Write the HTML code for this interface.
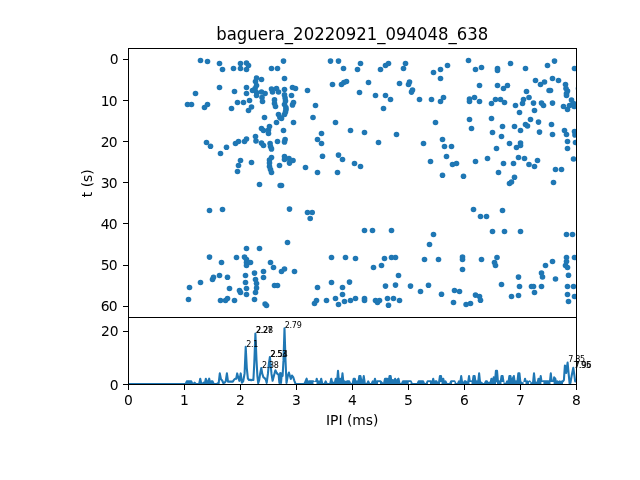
<!DOCTYPE html>
<html><head><meta charset="utf-8"><title>baguera_20220921_094048_638</title>
<style>html,body{margin:0;padding:0;background:#fff;overflow:hidden}svg{display:block}text{font-family:"DejaVu Sans","Liberation Sans",sans-serif;fill:#000}</style></head><body>
<svg width="640" height="480" viewBox="0 0 640 480">
<rect width="640" height="480" fill="#fff"/>
<defs><clipPath id="c1"><rect x="128" y="48" width="448" height="268.8"/></clipPath><clipPath id="c2"><rect x="128" y="316.8" width="448" height="67.19999999999999"/></clipPath></defs>
<g clip-path="url(#c1)" fill="#1f77b4">
<circle cx="187.50" cy="104.50" r="2.8"/>
<circle cx="188.50" cy="299.50" r="2.8"/>
<circle cx="189.50" cy="287.50" r="2.8"/>
<circle cx="191.50" cy="104.50" r="2.8"/>
<circle cx="195.50" cy="93.50" r="2.8"/>
<circle cx="200.50" cy="60.50" r="2.8"/>
<circle cx="200.50" cy="282.50" r="2.8"/>
<circle cx="204.50" cy="107.50" r="2.8"/>
<circle cx="206.50" cy="142.50" r="2.8"/>
<circle cx="207.50" cy="61.50" r="2.8"/>
<circle cx="207.50" cy="104.50" r="2.8"/>
<circle cx="209.50" cy="210.50" r="2.8"/>
<circle cx="209.50" cy="257.10" r="2.8"/>
<circle cx="210.50" cy="146.20" r="2.8"/>
<circle cx="212.50" cy="279.50" r="2.8"/>
<circle cx="213.50" cy="277.20" r="2.8"/>
<circle cx="219.50" cy="63.50" r="2.8"/>
<circle cx="219.50" cy="87.50" r="2.8"/>
<circle cx="219.50" cy="275.50" r="2.8"/>
<circle cx="220.50" cy="153.50" r="2.8"/>
<circle cx="220.50" cy="300.50" r="2.8"/>
<circle cx="221.50" cy="262.50" r="2.8"/>
<circle cx="222.50" cy="69.50" r="2.8"/>
<circle cx="222.50" cy="209.50" r="2.8"/>
<circle cx="225.50" cy="300.50" r="2.8"/>
<circle cx="226.50" cy="147.20" r="2.8"/>
<circle cx="227.50" cy="277.20" r="2.8"/>
<circle cx="227.50" cy="298.50" r="2.8"/>
<circle cx="229.50" cy="288.50" r="2.8"/>
<circle cx="231.50" cy="108.50" r="2.8"/>
<circle cx="233.50" cy="68.50" r="2.8"/>
<circle cx="234.50" cy="91.50" r="2.8"/>
<circle cx="234.50" cy="300.50" r="2.8"/>
<circle cx="235.50" cy="143.50" r="2.8"/>
<circle cx="236.50" cy="257.50" r="2.8"/>
<circle cx="237.50" cy="102.50" r="2.8"/>
<circle cx="237.50" cy="171.50" r="2.8"/>
<circle cx="238.50" cy="141.50" r="2.8"/>
<circle cx="238.50" cy="165.50" r="2.8"/>
<circle cx="239.50" cy="290.50" r="2.8"/>
<circle cx="240.50" cy="63.50" r="2.8"/>
<circle cx="240.50" cy="68.50" r="2.8"/>
<circle cx="240.50" cy="160.50" r="2.8"/>
<circle cx="240.50" cy="292.50" r="2.8"/>
<circle cx="243.50" cy="102.50" r="2.8"/>
<circle cx="244.50" cy="141.50" r="2.8"/>
<circle cx="244.50" cy="257.10" r="2.8"/>
<circle cx="245.50" cy="275.50" r="2.8"/>
<circle cx="245.50" cy="282.50" r="2.8"/>
<circle cx="246.50" cy="63.00" r="2.8"/>
<circle cx="246.50" cy="69.50" r="2.8"/>
<circle cx="246.50" cy="87.50" r="2.8"/>
<circle cx="246.50" cy="93.50" r="2.8"/>
<circle cx="246.50" cy="139.00" r="2.8"/>
<circle cx="246.50" cy="248.50" r="2.8"/>
<circle cx="246.50" cy="259.50" r="2.8"/>
<circle cx="246.50" cy="262.50" r="2.8"/>
<circle cx="246.50" cy="265.50" r="2.8"/>
<circle cx="246.50" cy="288.50" r="2.8"/>
<circle cx="246.50" cy="294.50" r="2.8"/>
<circle cx="248.50" cy="65.50" r="2.8"/>
<circle cx="248.50" cy="110.50" r="2.8"/>
<circle cx="249.50" cy="100.50" r="2.8"/>
<circle cx="250.50" cy="262.50" r="2.8"/>
<circle cx="251.50" cy="107.00" r="2.8"/>
<circle cx="251.50" cy="162.50" r="2.8"/>
<circle cx="252.50" cy="90.50" r="2.8"/>
<circle cx="254.50" cy="273.10" r="2.8"/>
<circle cx="254.50" cy="299.50" r="2.8"/>
<circle cx="255.10" cy="88.50" r="2.8"/>
<circle cx="255.50" cy="81.50" r="2.8"/>
<circle cx="255.50" cy="136.50" r="2.8"/>
<circle cx="255.50" cy="279.50" r="2.8"/>
<circle cx="255.50" cy="292.50" r="2.8"/>
<circle cx="256.00" cy="141.00" r="2.8"/>
<circle cx="256.50" cy="78.00" r="2.8"/>
<circle cx="256.50" cy="85.50" r="2.8"/>
<circle cx="256.50" cy="92.50" r="2.8"/>
<circle cx="256.50" cy="95.50" r="2.8"/>
<circle cx="256.50" cy="283.50" r="2.8"/>
<circle cx="256.50" cy="288.10" r="2.8"/>
<circle cx="259.50" cy="184.50" r="2.8"/>
<circle cx="259.50" cy="248.50" r="2.8"/>
<circle cx="261.50" cy="79.50" r="2.8"/>
<circle cx="261.50" cy="92.00" r="2.8"/>
<circle cx="261.50" cy="128.50" r="2.8"/>
<circle cx="261.50" cy="143.10" r="2.8"/>
<circle cx="262.00" cy="97.50" r="2.8"/>
<circle cx="262.50" cy="101.50" r="2.8"/>
<circle cx="263.50" cy="130.50" r="2.8"/>
<circle cx="263.50" cy="145.50" r="2.8"/>
<circle cx="263.50" cy="271.50" r="2.8"/>
<circle cx="263.50" cy="277.50" r="2.8"/>
<circle cx="264.50" cy="117.50" r="2.8"/>
<circle cx="265.10" cy="93.50" r="2.8"/>
<circle cx="265.10" cy="304.00" r="2.8"/>
<circle cx="266.50" cy="305.50" r="2.8"/>
<circle cx="268.50" cy="130.00" r="2.8"/>
<circle cx="268.50" cy="133.50" r="2.8"/>
<circle cx="269.50" cy="126.50" r="2.8"/>
<circle cx="269.50" cy="160.00" r="2.8"/>
<circle cx="269.50" cy="163.00" r="2.8"/>
<circle cx="269.50" cy="166.50" r="2.8"/>
<circle cx="270.10" cy="143.50" r="2.8"/>
<circle cx="270.50" cy="146.50" r="2.8"/>
<circle cx="270.50" cy="169.50" r="2.8"/>
<circle cx="270.50" cy="262.50" r="2.8"/>
<circle cx="271.50" cy="68.50" r="2.8"/>
<circle cx="271.50" cy="89.00" r="2.8"/>
<circle cx="271.50" cy="148.90" r="2.8"/>
<circle cx="271.50" cy="157.50" r="2.8"/>
<circle cx="271.50" cy="172.50" r="2.8"/>
<circle cx="272.50" cy="92.00" r="2.8"/>
<circle cx="273.50" cy="267.50" r="2.8"/>
<circle cx="274.50" cy="99.90" r="2.8"/>
<circle cx="274.50" cy="103.50" r="2.8"/>
<circle cx="274.50" cy="285.50" r="2.8"/>
<circle cx="275.50" cy="106.50" r="2.8"/>
<circle cx="276.50" cy="88.50" r="2.8"/>
<circle cx="276.50" cy="122.50" r="2.8"/>
<circle cx="277.50" cy="68.50" r="2.8"/>
<circle cx="277.50" cy="141.50" r="2.8"/>
<circle cx="277.50" cy="285.50" r="2.8"/>
<circle cx="278.50" cy="92.00" r="2.8"/>
<circle cx="278.50" cy="114.50" r="2.8"/>
<circle cx="279.50" cy="165.50" r="2.8"/>
<circle cx="279.90" cy="117.50" r="2.8"/>
<circle cx="280.20" cy="185.50" r="2.8"/>
<circle cx="281.50" cy="118.50" r="2.8"/>
<circle cx="281.50" cy="185.50" r="2.8"/>
<circle cx="281.50" cy="271.50" r="2.8"/>
<circle cx="283.50" cy="61.10" r="2.8"/>
<circle cx="283.50" cy="130.50" r="2.8"/>
<circle cx="284.50" cy="78.50" r="2.8"/>
<circle cx="284.50" cy="89.50" r="2.8"/>
<circle cx="284.50" cy="94.90" r="2.8"/>
<circle cx="284.50" cy="104.50" r="2.8"/>
<circle cx="284.50" cy="114.50" r="2.8"/>
<circle cx="284.50" cy="141.90" r="2.8"/>
<circle cx="284.50" cy="156.50" r="2.8"/>
<circle cx="284.50" cy="159.50" r="2.8"/>
<circle cx="284.50" cy="269.00" r="2.8"/>
<circle cx="285.10" cy="98.00" r="2.8"/>
<circle cx="285.10" cy="139.50" r="2.8"/>
<circle cx="285.50" cy="101.10" r="2.8"/>
<circle cx="285.50" cy="111.90" r="2.8"/>
<circle cx="285.90" cy="107.50" r="2.8"/>
<circle cx="286.00" cy="109.50" r="2.8"/>
<circle cx="287.50" cy="242.50" r="2.8"/>
<circle cx="289.00" cy="158.50" r="2.8"/>
<circle cx="289.50" cy="163.10" r="2.8"/>
<circle cx="289.50" cy="209.10" r="2.8"/>
<circle cx="291.50" cy="95.50" r="2.8"/>
<circle cx="292.50" cy="87.50" r="2.8"/>
<circle cx="292.50" cy="104.90" r="2.8"/>
<circle cx="293.00" cy="160.50" r="2.8"/>
<circle cx="293.50" cy="102.50" r="2.8"/>
<circle cx="293.50" cy="122.50" r="2.8"/>
<circle cx="294.50" cy="271.50" r="2.8"/>
<circle cx="295.50" cy="88.50" r="2.8"/>
<circle cx="305.50" cy="167.50" r="2.8"/>
<circle cx="307.50" cy="90.50" r="2.8"/>
<circle cx="307.50" cy="212.50" r="2.8"/>
<circle cx="310.20" cy="218.50" r="2.8"/>
<circle cx="312.20" cy="212.50" r="2.8"/>
<circle cx="313.00" cy="117.50" r="2.8"/>
<circle cx="314.50" cy="303.50" r="2.8"/>
<circle cx="315.50" cy="105.50" r="2.8"/>
<circle cx="316.50" cy="300.50" r="2.8"/>
<circle cx="317.50" cy="139.50" r="2.8"/>
<circle cx="317.50" cy="172.50" r="2.8"/>
<circle cx="317.50" cy="287.50" r="2.8"/>
<circle cx="321.50" cy="133.50" r="2.8"/>
<circle cx="321.50" cy="143.50" r="2.8"/>
<circle cx="322.50" cy="156.20" r="2.8"/>
<circle cx="326.50" cy="300.50" r="2.8"/>
<circle cx="330.50" cy="61.10" r="2.8"/>
<circle cx="331.50" cy="257.50" r="2.8"/>
<circle cx="331.50" cy="282.50" r="2.8"/>
<circle cx="332.50" cy="84.50" r="2.8"/>
<circle cx="335.50" cy="122.50" r="2.8"/>
<circle cx="335.50" cy="298.50" r="2.8"/>
<circle cx="337.50" cy="172.50" r="2.8"/>
<circle cx="338.50" cy="61.10" r="2.8"/>
<circle cx="338.50" cy="155.10" r="2.8"/>
<circle cx="338.50" cy="304.50" r="2.8"/>
<circle cx="341.50" cy="84.50" r="2.8"/>
<circle cx="342.50" cy="159.50" r="2.8"/>
<circle cx="342.50" cy="287.50" r="2.8"/>
<circle cx="342.50" cy="294.50" r="2.8"/>
<circle cx="343.50" cy="68.50" r="2.8"/>
<circle cx="343.90" cy="82.50" r="2.8"/>
<circle cx="344.50" cy="301.50" r="2.8"/>
<circle cx="345.50" cy="257.50" r="2.8"/>
<circle cx="346.50" cy="81.50" r="2.8"/>
<circle cx="349.50" cy="282.10" r="2.8"/>
<circle cx="350.50" cy="130.50" r="2.8"/>
<circle cx="350.50" cy="300.50" r="2.8"/>
<circle cx="354.50" cy="163.50" r="2.8"/>
<circle cx="355.50" cy="258.50" r="2.8"/>
<circle cx="355.50" cy="298.50" r="2.8"/>
<circle cx="357.50" cy="69.50" r="2.8"/>
<circle cx="359.50" cy="92.50" r="2.8"/>
<circle cx="360.50" cy="63.50" r="2.8"/>
<circle cx="360.50" cy="166.50" r="2.8"/>
<circle cx="364.50" cy="132.50" r="2.8"/>
<circle cx="364.50" cy="230.50" r="2.8"/>
<circle cx="364.50" cy="298.50" r="2.8"/>
<circle cx="364.50" cy="300.50" r="2.8"/>
<circle cx="368.50" cy="82.50" r="2.8"/>
<circle cx="372.50" cy="230.50" r="2.8"/>
<circle cx="373.50" cy="267.50" r="2.8"/>
<circle cx="375.50" cy="95.50" r="2.8"/>
<circle cx="375.50" cy="300.50" r="2.8"/>
<circle cx="377.50" cy="302.50" r="2.8"/>
<circle cx="378.50" cy="142.50" r="2.8"/>
<circle cx="379.50" cy="300.50" r="2.8"/>
<circle cx="380.50" cy="69.50" r="2.8"/>
<circle cx="381.50" cy="265.50" r="2.8"/>
<circle cx="383.50" cy="108.50" r="2.8"/>
<circle cx="384.50" cy="258.50" r="2.8"/>
<circle cx="385.50" cy="65.50" r="2.8"/>
<circle cx="385.50" cy="95.50" r="2.8"/>
<circle cx="385.50" cy="286.10" r="2.8"/>
<circle cx="387.50" cy="298.50" r="2.8"/>
<circle cx="388.50" cy="63.50" r="2.8"/>
<circle cx="388.50" cy="305.20" r="2.8"/>
<circle cx="390.50" cy="99.50" r="2.8"/>
<circle cx="391.50" cy="230.50" r="2.8"/>
<circle cx="391.50" cy="257.50" r="2.8"/>
<circle cx="393.50" cy="298.50" r="2.8"/>
<circle cx="395.50" cy="257.50" r="2.8"/>
<circle cx="395.50" cy="285.10" r="2.8"/>
<circle cx="396.50" cy="134.50" r="2.8"/>
<circle cx="398.50" cy="275.50" r="2.8"/>
<circle cx="399.50" cy="83.50" r="2.8"/>
<circle cx="399.50" cy="300.50" r="2.8"/>
<circle cx="403.50" cy="68.50" r="2.8"/>
<circle cx="405.50" cy="63.50" r="2.8"/>
<circle cx="408.50" cy="84.50" r="2.8"/>
<circle cx="409.50" cy="82.10" r="2.8"/>
<circle cx="410.50" cy="286.10" r="2.8"/>
<circle cx="411.50" cy="92.10" r="2.8"/>
<circle cx="412.50" cy="90.00" r="2.8"/>
<circle cx="419.50" cy="99.50" r="2.8"/>
<circle cx="420.50" cy="291.50" r="2.8"/>
<circle cx="423.50" cy="143.50" r="2.8"/>
<circle cx="424.50" cy="259.50" r="2.8"/>
<circle cx="428.50" cy="285.20" r="2.8"/>
<circle cx="429.50" cy="244.50" r="2.8"/>
<circle cx="430.50" cy="161.50" r="2.8"/>
<circle cx="431.50" cy="99.50" r="2.8"/>
<circle cx="433.50" cy="72.50" r="2.8"/>
<circle cx="433.50" cy="234.50" r="2.8"/>
<circle cx="435.50" cy="122.50" r="2.8"/>
<circle cx="438.50" cy="259.50" r="2.8"/>
<circle cx="440.50" cy="69.50" r="2.8"/>
<circle cx="440.50" cy="78.50" r="2.8"/>
<circle cx="440.50" cy="101.50" r="2.8"/>
<circle cx="441.50" cy="294.20" r="2.8"/>
<circle cx="442.50" cy="139.50" r="2.8"/>
<circle cx="442.50" cy="175.20" r="2.8"/>
<circle cx="443.50" cy="97.50" r="2.8"/>
<circle cx="444.50" cy="146.50" r="2.8"/>
<circle cx="446.50" cy="156.50" r="2.8"/>
<circle cx="447.50" cy="65.50" r="2.8"/>
<circle cx="451.50" cy="146.50" r="2.8"/>
<circle cx="452.50" cy="164.50" r="2.8"/>
<circle cx="453.50" cy="302.50" r="2.8"/>
<circle cx="454.50" cy="290.50" r="2.8"/>
<circle cx="456.50" cy="163.50" r="2.8"/>
<circle cx="459.50" cy="291.50" r="2.8"/>
<circle cx="462.50" cy="257.10" r="2.8"/>
<circle cx="462.50" cy="259.50" r="2.8"/>
<circle cx="462.50" cy="269.50" r="2.8"/>
<circle cx="463.50" cy="176.20" r="2.8"/>
<circle cx="466.10" cy="304.50" r="2.8"/>
<circle cx="468.50" cy="60.50" r="2.8"/>
<circle cx="469.50" cy="99.10" r="2.8"/>
<circle cx="469.50" cy="101.50" r="2.8"/>
<circle cx="469.50" cy="119.50" r="2.8"/>
<circle cx="470.50" cy="303.50" r="2.8"/>
<circle cx="471.50" cy="128.50" r="2.8"/>
<circle cx="473.50" cy="209.50" r="2.8"/>
<circle cx="474.50" cy="97.50" r="2.8"/>
<circle cx="475.50" cy="69.50" r="2.8"/>
<circle cx="475.50" cy="161.50" r="2.8"/>
<circle cx="475.50" cy="295.10" r="2.8"/>
<circle cx="479.50" cy="85.50" r="2.8"/>
<circle cx="479.50" cy="101.50" r="2.8"/>
<circle cx="479.50" cy="296.50" r="2.8"/>
<circle cx="480.50" cy="216.50" r="2.8"/>
<circle cx="480.50" cy="300.20" r="2.8"/>
<circle cx="481.50" cy="67.50" r="2.8"/>
<circle cx="481.50" cy="259.50" r="2.8"/>
<circle cx="486.50" cy="216.50" r="2.8"/>
<circle cx="487.50" cy="158.50" r="2.8"/>
<circle cx="491.50" cy="103.50" r="2.8"/>
<circle cx="491.50" cy="118.50" r="2.8"/>
<circle cx="492.50" cy="132.50" r="2.8"/>
<circle cx="492.50" cy="231.50" r="2.8"/>
<circle cx="494.50" cy="262.50" r="2.8"/>
<circle cx="495.50" cy="99.50" r="2.8"/>
<circle cx="495.50" cy="265.50" r="2.8"/>
<circle cx="496.50" cy="148.50" r="2.8"/>
<circle cx="497.00" cy="257.50" r="2.8"/>
<circle cx="497.50" cy="68.50" r="2.8"/>
<circle cx="497.50" cy="70.50" r="2.8"/>
<circle cx="497.50" cy="85.50" r="2.8"/>
<circle cx="498.50" cy="172.50" r="2.8"/>
<circle cx="500.50" cy="99.50" r="2.8"/>
<circle cx="501.50" cy="136.50" r="2.8"/>
<circle cx="501.50" cy="284.50" r="2.8"/>
<circle cx="502.50" cy="126.50" r="2.8"/>
<circle cx="502.50" cy="210.50" r="2.8"/>
<circle cx="503.50" cy="88.50" r="2.8"/>
<circle cx="503.50" cy="163.50" r="2.8"/>
<circle cx="504.50" cy="102.50" r="2.8"/>
<circle cx="504.50" cy="231.50" r="2.8"/>
<circle cx="507.50" cy="85.50" r="2.8"/>
<circle cx="509.50" cy="143.50" r="2.8"/>
<circle cx="509.50" cy="183.50" r="2.8"/>
<circle cx="510.50" cy="63.50" r="2.8"/>
<circle cx="511.50" cy="182.00" r="2.8"/>
<circle cx="511.50" cy="296.50" r="2.8"/>
<circle cx="513.50" cy="163.50" r="2.8"/>
<circle cx="514.50" cy="126.50" r="2.8"/>
<circle cx="514.50" cy="177.20" r="2.8"/>
<circle cx="515.50" cy="105.50" r="2.8"/>
<circle cx="516.50" cy="147.50" r="2.8"/>
<circle cx="518.50" cy="157.50" r="2.8"/>
<circle cx="518.50" cy="277.10" r="2.8"/>
<circle cx="518.50" cy="295.50" r="2.8"/>
<circle cx="519.50" cy="112.50" r="2.8"/>
<circle cx="519.50" cy="286.50" r="2.8"/>
<circle cx="520.50" cy="130.50" r="2.8"/>
<circle cx="520.50" cy="143.00" r="2.8"/>
<circle cx="520.50" cy="145.50" r="2.8"/>
<circle cx="520.50" cy="231.50" r="2.8"/>
<circle cx="522.50" cy="103.50" r="2.8"/>
<circle cx="523.50" cy="99.50" r="2.8"/>
<circle cx="524.50" cy="158.50" r="2.8"/>
<circle cx="525.50" cy="68.50" r="2.8"/>
<circle cx="525.50" cy="124.50" r="2.8"/>
<circle cx="526.50" cy="91.50" r="2.8"/>
<circle cx="527.50" cy="126.00" r="2.8"/>
<circle cx="529.00" cy="97.50" r="2.8"/>
<circle cx="529.00" cy="164.50" r="2.8"/>
<circle cx="530.50" cy="119.50" r="2.8"/>
<circle cx="531.50" cy="286.50" r="2.8"/>
<circle cx="533.50" cy="103.10" r="2.8"/>
<circle cx="533.50" cy="286.50" r="2.8"/>
<circle cx="534.50" cy="110.50" r="2.8"/>
<circle cx="534.50" cy="166.50" r="2.8"/>
<circle cx="534.50" cy="292.50" r="2.8"/>
<circle cx="535.50" cy="80.50" r="2.8"/>
<circle cx="537.50" cy="160.50" r="2.8"/>
<circle cx="538.50" cy="122.10" r="2.8"/>
<circle cx="539.50" cy="132.10" r="2.8"/>
<circle cx="540.50" cy="84.50" r="2.8"/>
<circle cx="541.50" cy="103.10" r="2.8"/>
<circle cx="541.50" cy="273.10" r="2.8"/>
<circle cx="541.50" cy="286.50" r="2.8"/>
<circle cx="542.50" cy="277.00" r="2.8"/>
<circle cx="543.50" cy="105.50" r="2.8"/>
<circle cx="544.50" cy="82.00" r="2.8"/>
<circle cx="545.50" cy="265.50" r="2.8"/>
<circle cx="547.50" cy="65.50" r="2.8"/>
<circle cx="549.10" cy="90.50" r="2.8"/>
<circle cx="550.50" cy="90.50" r="2.8"/>
<circle cx="551.50" cy="124.50" r="2.8"/>
<circle cx="552.50" cy="78.50" r="2.8"/>
<circle cx="552.50" cy="103.10" r="2.8"/>
<circle cx="552.50" cy="134.50" r="2.8"/>
<circle cx="552.50" cy="261.50" r="2.8"/>
<circle cx="553.50" cy="182.50" r="2.8"/>
<circle cx="554.50" cy="61.10" r="2.8"/>
<circle cx="555.50" cy="169.50" r="2.8"/>
<circle cx="555.50" cy="279.00" r="2.8"/>
<circle cx="558.50" cy="80.50" r="2.8"/>
<circle cx="561.50" cy="169.50" r="2.8"/>
<circle cx="563.50" cy="106.50" r="2.8"/>
<circle cx="564.50" cy="130.50" r="2.8"/>
<circle cx="565.50" cy="84.50" r="2.8"/>
<circle cx="565.50" cy="265.50" r="2.8"/>
<circle cx="566.00" cy="88.50" r="2.8"/>
<circle cx="566.50" cy="93.50" r="2.8"/>
<circle cx="566.50" cy="95.50" r="2.8"/>
<circle cx="566.50" cy="134.50" r="2.8"/>
<circle cx="566.50" cy="234.50" r="2.8"/>
<circle cx="566.50" cy="257.50" r="2.8"/>
<circle cx="566.50" cy="261.50" r="2.8"/>
<circle cx="567.50" cy="91.10" r="2.8"/>
<circle cx="567.50" cy="109.50" r="2.8"/>
<circle cx="567.50" cy="141.50" r="2.8"/>
<circle cx="567.50" cy="148.50" r="2.8"/>
<circle cx="567.50" cy="267.50" r="2.8"/>
<circle cx="567.50" cy="286.50" r="2.8"/>
<circle cx="567.50" cy="294.50" r="2.8"/>
<circle cx="568.50" cy="275.20" r="2.8"/>
<circle cx="568.50" cy="301.50" r="2.8"/>
<circle cx="569.50" cy="105.50" r="2.8"/>
<circle cx="571.50" cy="100.10" r="2.8"/>
<circle cx="572.50" cy="234.50" r="2.8"/>
<circle cx="573.50" cy="103.50" r="2.8"/>
<circle cx="573.50" cy="159.00" r="2.8"/>
<circle cx="573.50" cy="286.50" r="2.8"/>
<circle cx="574.10" cy="106.50" r="2.8"/>
<circle cx="574.50" cy="68.50" r="2.8"/>
<circle cx="574.50" cy="131.50" r="2.8"/>
<circle cx="574.50" cy="257.50" r="2.8"/>
<circle cx="574.50" cy="296.50" r="2.8"/>
<circle cx="575.00" cy="134.90" r="2.8"/>
<circle cx="575.50" cy="142.50" r="2.8"/>
<circle cx="578.50" cy="88.50" r="2.8"/>
</g>
<g clip-path="url(#c2)"><polygon points="128.00,384 128.00,384.00 128.56,384.00 129.68,384.00 130.80,384.00 131.92,384.00 133.04,384.00 134.16,384.00 135.28,384.00 136.40,384.00 137.52,384.00 138.64,384.00 139.76,384.00 140.88,384.00 142.00,384.00 143.12,384.00 144.24,384.00 145.36,384.00 146.48,384.00 147.60,384.00 148.72,384.00 149.84,384.00 150.96,384.00 152.08,384.00 153.20,384.00 154.32,384.00 155.44,384.00 156.56,384.00 157.68,384.00 158.80,384.00 159.92,384.00 161.04,384.00 162.16,384.00 163.28,384.00 164.40,384.00 165.52,384.00 166.64,384.00 167.76,384.00 168.88,384.00 170.00,384.00 171.12,384.00 172.24,384.00 173.36,384.00 174.48,384.00 175.60,384.00 176.72,384.00 177.84,384.00 178.96,384.00 180.08,384.00 181.20,384.00 182.32,384.00 183.44,384.00 184.56,384.00 185.68,384.00 186.80,381.35 187.92,381.35 189.04,381.35 190.16,381.35 191.28,381.35 192.40,384.00 193.52,384.00 194.64,382.68 195.76,384.00 196.88,384.00 198.00,384.00 199.12,384.00 200.24,378.70 201.36,384.00 202.48,384.00 203.60,382.68 204.72,384.00 205.84,378.70 206.96,384.00 208.08,381.35 209.20,378.70 210.32,384.00 211.44,381.35 212.56,381.35 213.68,384.00 214.80,384.00 215.92,384.00 217.04,384.00 217.04,384" fill="#1f77b4"/><polygon points="297.00,384 297.00,384.00 297.68,384.00 298.80,384.00 299.92,384.00 301.04,384.00 302.16,384.00 303.28,384.00 304.40,384.00 305.52,381.35 306.64,378.70 307.76,384.00 308.88,381.35 310.00,381.35 311.12,381.35 312.24,381.35 313.36,381.35 314.48,382.68 315.60,384.00 316.72,378.70 317.84,384.00 318.96,381.35 320.08,384.00 321.20,378.70 322.32,384.00 323.44,384.00 324.56,384.00 325.68,381.35 326.80,384.00 327.92,384.00 329.04,384.00 330.16,384.00 331.28,378.70 332.40,384.00 333.52,382.68 334.64,384.00 335.76,378.70 336.88,384.00 338.00,370.75 339.12,384.00 340.24,378.70 341.36,384.00 342.48,373.40 343.60,384.00 344.72,381.35 345.84,382.68 346.96,381.35 348.08,381.35 349.20,381.35 350.32,384.00 351.44,384.00 352.56,384.00 353.68,378.70 354.80,378.70 355.92,384.00 357.04,381.35 358.16,384.00 359.28,376.05 360.40,376.05 361.52,381.35 362.64,384.00 363.76,376.05 364.88,384.00 366.00,384.00 367.12,384.00 368.24,381.35 369.36,384.00 370.48,384.00 371.60,384.00 372.72,381.35 373.84,384.00 374.96,378.70 376.08,384.00 377.20,381.35 378.32,381.35 379.44,381.35 380.56,381.35 381.68,382.68 382.80,384.00 383.92,384.00 385.04,378.70 386.16,378.70 387.28,378.70 388.40,384.00 389.52,376.05 390.64,376.05 391.76,384.00 392.88,380.02 394.00,384.00 395.12,378.70 396.24,384.00 397.36,380.02 398.48,378.70 399.60,384.00 400.72,384.00 401.84,384.00 402.96,381.35 404.08,381.35 405.20,381.35 406.32,381.35 407.44,381.35 408.56,381.35 409.68,381.35 410.80,381.35 411.92,384.00 413.04,384.00 414.16,384.00 415.28,384.00 416.40,384.00 417.52,384.00 418.64,381.35 419.76,381.35 420.88,381.35 422.00,381.35 423.12,381.35 424.24,384.00 425.36,384.00 426.48,384.00 427.60,381.35 428.72,381.35 429.84,381.35 430.96,381.35 432.08,384.00 433.20,378.70 434.32,384.00 435.44,381.35 436.56,381.35 437.68,384.00 438.80,384.00 439.92,376.05 441.04,376.05 442.16,384.00 443.28,378.70 444.40,384.00 445.52,381.35 446.64,384.00 447.76,384.00 448.88,384.00 450.00,384.00 451.12,381.35 452.24,381.35 453.36,381.35 454.48,381.35 455.60,384.00 456.72,384.00 457.84,384.00 458.96,381.35 460.08,384.00 461.20,376.05 462.32,384.00 463.44,384.00 464.56,381.35 465.68,381.35 466.80,382.68 467.92,384.00 469.04,376.05 470.16,384.00 471.28,381.35 472.40,384.00 473.52,376.05 474.64,376.05 475.76,384.00 476.88,381.35 478.00,384.00 479.12,373.40 480.24,384.00 481.36,382.68 482.48,384.00 483.60,384.00 484.72,384.00 485.84,381.35 486.96,381.35 488.08,384.00 489.20,382.68 490.32,384.00 491.44,378.70 492.56,384.00 493.68,377.38 494.80,384.00 495.92,370.75 497.04,370.75 498.16,384.00 499.28,381.35 500.40,384.00 501.52,376.05 502.64,376.05 503.76,384.00 504.88,384.00 506.00,384.00 507.12,381.35 508.24,384.00 509.36,376.05 510.48,376.05 511.60,384.00 512.72,378.70 513.84,376.05 514.96,384.00 516.08,381.35 517.20,384.00 518.32,373.40 519.44,373.40 520.56,384.00 521.68,382.68 522.80,384.00 523.92,384.00 525.04,378.70 526.16,384.00 527.28,381.35 528.40,382.68 529.52,381.35 530.64,382.68 531.76,384.00 532.88,384.00 534.00,373.40 535.12,384.00 536.24,382.68 537.36,384.00 538.48,378.70 539.60,384.00 540.72,376.05 541.84,384.00 542.96,381.35 544.08,381.35 545.20,381.35 546.32,381.35 547.44,381.35 548.56,381.35 549.68,384.00 550.80,373.40 551.92,384.00 553.04,384.00 554.16,377.38 555.28,378.70 556.40,384.00 557.52,381.35 558.64,382.68 559.76,381.35 560.88,382.68 562.00,381.35 563.00,381.35 563.00,384" fill="#1f77b4"/></g>
<g clip-path="url(#c2)"><polyline points="128.00,384.00 128.56,384.00 129.68,384.00 130.80,384.00 131.92,384.00 133.04,384.00 134.16,384.00 135.28,384.00 136.40,384.00 137.52,384.00 138.64,384.00 139.76,384.00 140.88,384.00 142.00,384.00 143.12,384.00 144.24,384.00 145.36,384.00 146.48,384.00 147.60,384.00 148.72,384.00 149.84,384.00 150.96,384.00 152.08,384.00 153.20,384.00 154.32,384.00 155.44,384.00 156.56,384.00 157.68,384.00 158.80,384.00 159.92,384.00 161.04,384.00 162.16,384.00 163.28,384.00 164.40,384.00 165.52,384.00 166.64,384.00 167.76,384.00 168.88,384.00 170.00,384.00 171.12,384.00 172.24,384.00 173.36,384.00 174.48,384.00 175.60,384.00 176.72,384.00 177.84,384.00 178.96,384.00 180.08,384.00 181.20,384.00 182.32,384.00 183.44,384.00 184.56,384.00 185.68,384.00 186.80,381.35 187.92,381.35 189.04,381.35 190.16,381.35 191.28,381.35 192.40,384.00 193.52,384.00 194.64,382.68 195.76,384.00 196.88,384.00 198.00,384.00 199.12,384.00 200.24,378.70 201.36,384.00 202.48,384.00 203.60,382.68 204.72,384.00 205.84,378.70 206.96,384.00 208.08,381.35 209.20,378.70 210.32,384.00 211.44,381.35 212.56,381.35 213.68,384.00 214.80,384.00 215.92,384.00 217.04,384.00 217.70,383.20 218.70,383.20 219.80,373.40 221.00,379.36 222.20,380.56 223.30,382.94 224.50,382.68 225.70,381.35 226.90,373.40 228.00,381.62 229.20,381.62 230.40,381.62 231.60,381.62 232.80,381.62 234.00,379.76 235.20,378.70 236.20,378.70 237.20,373.40 238.40,377.90 239.40,380.82 240.70,373.40 241.90,382.68 243.20,381.35 244.60,373.40 245.70,346.90 246.80,368.10 247.90,378.70 249.00,380.02 250.10,379.76 251.20,380.29 252.30,379.76 253.40,380.02 254.30,362.80 255.40,333.65 256.50,360.15 257.40,376.05 258.20,383.20 259.20,380.02 260.20,373.40 261.30,367.97 262.30,373.93 263.50,377.38 264.70,378.17 265.90,380.02 266.70,382.94 267.90,373.93 269.00,362.80 269.90,356.97 270.70,365.45 271.50,373.93 272.60,380.82 273.80,376.31 275.40,370.22 276.60,372.61 277.40,373.93 278.60,374.73 279.40,382.94 280.20,373.13 281.00,382.94 281.80,373.40 282.60,376.05 283.50,360.15 284.50,328.35 285.50,360.15 286.50,382.94 287.70,376.31 288.90,372.61 290.00,376.31 290.80,378.96 292.00,375.52 293.20,377.11 294.40,380.82 295.60,384.00 297.00,384.00 297.68,384.00 298.80,384.00 299.92,384.00 301.04,384.00 302.16,384.00 303.28,384.00 304.40,384.00 305.52,381.35 306.64,378.70 307.76,384.00 308.88,381.35 310.00,381.35 311.12,381.35 312.24,381.35 313.36,381.35 314.48,382.68 315.60,384.00 316.72,378.70 317.84,384.00 318.96,381.35 320.08,384.00 321.20,378.70 322.32,384.00 323.44,384.00 324.56,384.00 325.68,381.35 326.80,384.00 327.92,384.00 329.04,384.00 330.16,384.00 331.28,378.70 332.40,384.00 333.52,382.68 334.64,384.00 335.76,378.70 336.88,384.00 338.00,370.75 339.12,384.00 340.24,378.70 341.36,384.00 342.48,373.40 343.60,384.00 344.72,381.35 345.84,382.68 346.96,381.35 348.08,381.35 349.20,381.35 350.32,384.00 351.44,384.00 352.56,384.00 353.68,378.70 354.80,378.70 355.92,384.00 357.04,381.35 358.16,384.00 359.28,376.05 360.40,376.05 361.52,381.35 362.64,384.00 363.76,376.05 364.88,384.00 366.00,384.00 367.12,384.00 368.24,381.35 369.36,384.00 370.48,384.00 371.60,384.00 372.72,381.35 373.84,384.00 374.96,378.70 376.08,384.00 377.20,381.35 378.32,381.35 379.44,381.35 380.56,381.35 381.68,382.68 382.80,384.00 383.92,384.00 385.04,378.70 386.16,378.70 387.28,378.70 388.40,384.00 389.52,376.05 390.64,376.05 391.76,384.00 392.88,380.02 394.00,384.00 395.12,378.70 396.24,384.00 397.36,380.02 398.48,378.70 399.60,384.00 400.72,384.00 401.84,384.00 402.96,381.35 404.08,381.35 405.20,381.35 406.32,381.35 407.44,381.35 408.56,381.35 409.68,381.35 410.80,381.35 411.92,384.00 413.04,384.00 414.16,384.00 415.28,384.00 416.40,384.00 417.52,384.00 418.64,381.35 419.76,381.35 420.88,381.35 422.00,381.35 423.12,381.35 424.24,384.00 425.36,384.00 426.48,384.00 427.60,381.35 428.72,381.35 429.84,381.35 430.96,381.35 432.08,384.00 433.20,378.70 434.32,384.00 435.44,381.35 436.56,381.35 437.68,384.00 438.80,384.00 439.92,376.05 441.04,376.05 442.16,384.00 443.28,378.70 444.40,384.00 445.52,381.35 446.64,384.00 447.76,384.00 448.88,384.00 450.00,384.00 451.12,381.35 452.24,381.35 453.36,381.35 454.48,381.35 455.60,384.00 456.72,384.00 457.84,384.00 458.96,381.35 460.08,384.00 461.20,376.05 462.32,384.00 463.44,384.00 464.56,381.35 465.68,381.35 466.80,382.68 467.92,384.00 469.04,376.05 470.16,384.00 471.28,381.35 472.40,384.00 473.52,376.05 474.64,376.05 475.76,384.00 476.88,381.35 478.00,384.00 479.12,373.40 480.24,384.00 481.36,382.68 482.48,384.00 483.60,384.00 484.72,384.00 485.84,381.35 486.96,381.35 488.08,384.00 489.20,382.68 490.32,384.00 491.44,378.70 492.56,384.00 493.68,377.38 494.80,384.00 495.92,370.75 497.04,370.75 498.16,384.00 499.28,381.35 500.40,384.00 501.52,376.05 502.64,376.05 503.76,384.00 504.88,384.00 506.00,384.00 507.12,381.35 508.24,384.00 509.36,376.05 510.48,376.05 511.60,384.00 512.72,378.70 513.84,376.05 514.96,384.00 516.08,381.35 517.20,384.00 518.32,373.40 519.44,373.40 520.56,384.00 521.68,382.68 522.80,384.00 523.92,384.00 525.04,378.70 526.16,384.00 527.28,381.35 528.40,382.68 529.52,381.35 530.64,382.68 531.76,384.00 532.88,384.00 534.00,373.40 535.12,384.00 536.24,382.68 537.36,384.00 538.48,378.70 539.60,384.00 540.72,376.05 541.84,384.00 542.96,381.35 544.08,381.35 545.20,381.35 546.32,381.35 547.44,381.35 548.56,381.35 549.68,384.00 550.80,373.40 551.92,384.00 553.04,384.00 554.16,377.38 555.28,378.70 556.40,384.00 557.52,381.35 558.64,382.68 559.76,381.35 560.88,382.68 562.00,381.35 563.00,381.35 563.90,380.02 564.90,365.45 565.60,366.77 566.20,372.87 566.80,368.10 567.60,362.54 568.60,373.40 569.60,383.47 570.40,383.20 571.60,376.05 573.30,367.83 574.30,374.73 575.20,381.35 576.00,381.35" fill="none" stroke="#1f77b4" stroke-width="2.08" stroke-linejoin="round" stroke-linecap="square"/></g>
<rect x="313.5" y="382.1" width="3.0" height="2" rx="0.4" fill="#fff"/>
<rect x="378" y="382.1" width="2.0" height="2" rx="0.4" fill="#fff"/>
<rect x="408.7" y="382.1" width="1.8" height="2" rx="0.4" fill="#fff"/>
<rect x="428" y="382.1" width="2.0" height="2" rx="0.4" fill="#fff"/>
<rect x="440" y="382.1" width="1.5" height="2" rx="0.4" fill="#fff"/>
<rect x="452" y="382.1" width="2.5" height="2" rx="0.4" fill="#fff"/>
<rect x="469.5" y="382.1" width="2.0" height="2" rx="0.4" fill="#fff"/>
<rect x="496" y="382.1" width="1.0" height="2" rx="0.4" fill="#fff"/>
<rect x="501.5" y="382.1" width="2.0" height="2" rx="0.4" fill="#fff"/>
<rect x="523.6" y="382.1" width="1.9" height="2" rx="0.4" fill="#fff"/>
<rect x="529" y="382.1" width="1.3" height="2" rx="0.4" fill="#fff"/>
<rect x="541.4" y="382.1" width="2.0" height="2" rx="0.4" fill="#fff"/>
<rect x="550.5" y="382.1" width="3.1" height="2" rx="0.4" fill="#fff"/>
<g font-size="8.0" letter-spacing="-0.3">
<text x="246.20" y="346.90">2.1</text>
<text x="255.72" y="333.38">2.27</text>
<text x="256.28" y="333.38">2.28</text>
<text x="261.88" y="368.10">2.38</text>
<text x="270.28" y="356.97">2.53</text>
<text x="270.84" y="356.97">2.54</text>
<text x="284.84" y="328.08">2.79</text>
<text x="568.20" y="362.27">7.85</text>
<text x="574.08" y="367.83">7.95</text>
<text x="574.64" y="367.83">7.96</text>
</g>
<g fill="#000" shape-rendering="crispEdges">
<rect x="128" y="48" width="449" height="1"/>
<rect x="128" y="317" width="449" height="1"/>
<rect x="128" y="384" width="449" height="1"/>
<rect x="128" y="48" width="1" height="337"/>
<rect x="576" y="48" width="1" height="337"/>
<rect x="128" y="385" width="1" height="5"/>
<rect x="184" y="385" width="1" height="5"/>
<rect x="240" y="385" width="1" height="5"/>
<rect x="296" y="385" width="1" height="5"/>
<rect x="352" y="385" width="1" height="5"/>
<rect x="408" y="385" width="1" height="5"/>
<rect x="464" y="385" width="1" height="5"/>
<rect x="520" y="385" width="1" height="5"/>
<rect x="576" y="385" width="1" height="5"/>
<rect x="123" y="59" width="5" height="1"/>
<rect x="123" y="100" width="5" height="1"/>
<rect x="123" y="141" width="5" height="1"/>
<rect x="123" y="182" width="5" height="1"/>
<rect x="123" y="223" width="5" height="1"/>
<rect x="123" y="265" width="5" height="1"/>
<rect x="123" y="306" width="5" height="1"/>
<rect x="123" y="384" width="5" height="1"/>
<rect x="123" y="331" width="5" height="1"/>
</g>
<g font-size="13.89">
<text x="128.5" y="405.2" text-anchor="middle">0</text>
<text x="184.5" y="405.2" text-anchor="middle">1</text>
<text x="240.5" y="405.2" text-anchor="middle">2</text>
<text x="296.5" y="405.2" text-anchor="middle">3</text>
<text x="352.5" y="405.2" text-anchor="middle">4</text>
<text x="408.5" y="405.2" text-anchor="middle">5</text>
<text x="464.5" y="405.2" text-anchor="middle">6</text>
<text x="520.5" y="405.2" text-anchor="middle">7</text>
<text x="576.5" y="405.2" text-anchor="middle">8</text>
<text x="118.6" y="64.3" text-anchor="end">0</text>
<text x="116.8" y="105.5" text-anchor="end" letter-spacing="-0.75">10</text>
<text x="116.8" y="146.7" text-anchor="end" letter-spacing="-0.75">20</text>
<text x="116.8" y="187.9" text-anchor="end" letter-spacing="-0.75">30</text>
<text x="116.8" y="229.0" text-anchor="end" letter-spacing="-0.75">40</text>
<text x="116.8" y="270.2" text-anchor="end" letter-spacing="-0.75">50</text>
<text x="116.8" y="311.4" text-anchor="end" letter-spacing="-0.75">60</text>
<text x="118.6" y="389.9" text-anchor="end">0</text>
<text x="118.6" y="336.1" text-anchor="end">20</text>
<text x="352.2" y="424.8" text-anchor="middle">IPI (ms)</text>
<text transform="translate(92,183.2) rotate(-90)" text-anchor="middle">t (s)</text>
</g>
<text transform="translate(352.25,39.9) scale(0.991,1.07)" font-size="16.67" text-anchor="middle">baguera_20220921_094048_638</text>
</svg></body></html>
